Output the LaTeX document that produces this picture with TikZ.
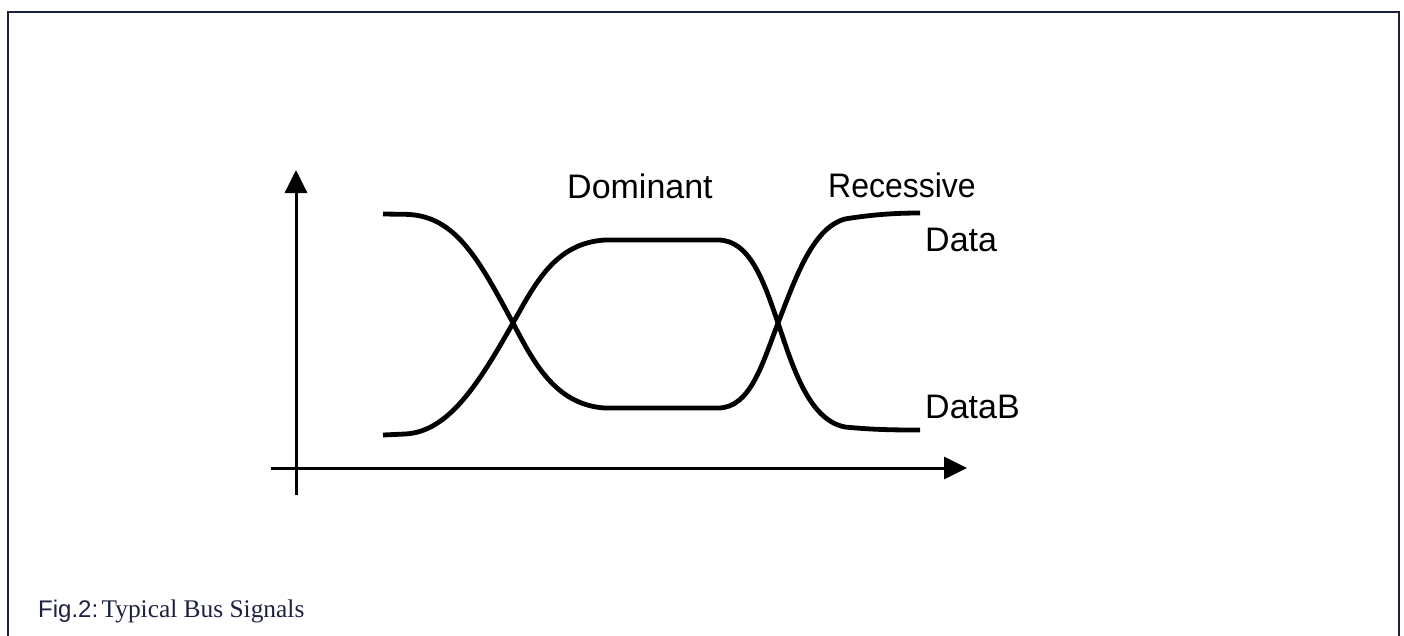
\documentclass[tikz,border=0pt]{standalone}
\usepackage{fontspec}
\setmainfont{Liberation Serif}
\setsansfont{Liberation Sans}
\usetikzlibrary{arrows.meta}
\definecolor{navy}{HTML}{1C2140}
\begin{document}
\begin{tikzpicture}[x=1pt,y=-1pt,
  axis/.style={line width=3pt,-{Triangle[length=23pt,width=22pt]}},
  signal/.style={line width=4.8pt,line join=round},
  lbl/.style={anchor=base west,inner sep=0pt,font=\sffamily\fontsize{34}{40}\selectfont},
  frame/.style={line width=2pt,draw=navy}]
\useasboundingbox (0,0) rectangle (1404,635);
% frame (open at the bottom)
\draw[frame] (7.5,645) -- (7.5,11.5) -- (1398.5,11.5) -- (1398.5,645);
% axes
\coordinate (yb) at (296,495);
\coordinate (yt) at (296,170);
\coordinate (xl) at (271,468);
\coordinate (xr) at (967,468);
\draw[axis] (yb) -- (yt);
\draw[axis] (xl) -- (xr);
% Data signal
\draw[signal] (383,214) -- (405,214.3)
  .. controls (455,215) and (478,258) .. (513,323)
  .. controls (533,361) and (555,405) .. (605,408) -- (718,408)
  .. controls (750,408) and (762,365) .. (778,323)
  .. controls (795,280) and (812,228) .. (845,219)
  .. controls (875,214) and (900,213) .. (920,213);
% DataB signal
\draw[signal] (383,435) -- (405,434)
  .. controls (448,432) and (478,385) .. (513,323)
  .. controls (535,284) and (555,243) .. (605,240) -- (718,240)
  .. controls (750,240) and (764,282) .. (778,323)
  .. controls (792,364) and (808,420) .. (845,427)
  .. controls (875,430) and (900,430) .. (920,430);
% labels
\node[lbl] (dom) at (567,198) {Dominant};
\node[lbl,xscale=0.94] (rec) at (828,197) {Recessive};
\node[lbl] (data) at (925,251) {Data};
\node[lbl] (datab) at (925,418) {DataB};
% caption
\node[anchor=base west,inner sep=0pt,text=navy] (cap) at (38,617)
 {{\sffamily\fontsize{24}{28}\selectfont Fig.2:} {\fontsize{25.4}{30}\selectfont Typical Bus Signals}};
\end{tikzpicture}
\end{document}
